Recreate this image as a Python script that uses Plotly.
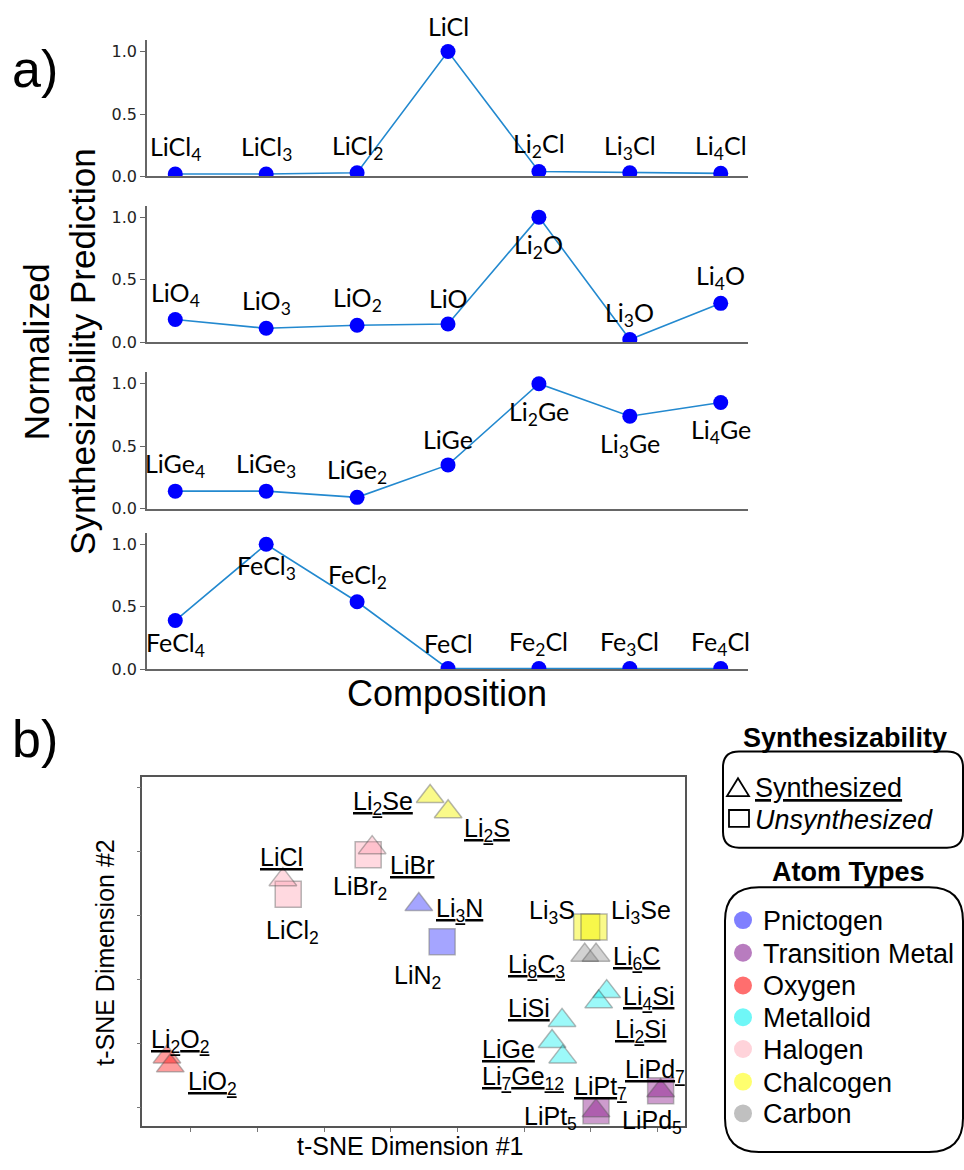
import plotly.graph_objects as go

W, H = 964, 1170

# ---------------- Panel a data ----------------
licl_labels = ["LiCl<sub>4</sub>", "LiCl<sub>3</sub>", "LiCl<sub>2</sub>", "LiCl",
               "Li<sub>2</sub>Cl", "Li<sub>3</sub>Cl", "Li<sub>4</sub>Cl"]
licl_values = [0.02, 0.02, 0.03, 1.0, 0.04, 0.03, 0.025]

lio_labels = ["LiO<sub>4</sub>", "LiO<sub>3</sub>", "LiO<sub>2</sub>", "LiO",
              "Li<sub>2</sub>O", "Li<sub>3</sub>O", "Li<sub>4</sub>O"]
lio_values = [0.18, 0.11, 0.135, 0.145, 1.0, 0.02, 0.31]

lige_labels = ["LiGe<sub>4</sub>", "LiGe<sub>3</sub>", "LiGe<sub>2</sub>", "LiGe",
               "Li<sub>2</sub>Ge", "Li<sub>3</sub>Ge", "Li<sub>4</sub>Ge"]
lige_values = [0.14, 0.14, 0.09, 0.35, 1.0, 0.74, 0.85]

fecl_labels = ["FeCl<sub>4</sub>", "FeCl<sub>3</sub>", "FeCl<sub>2</sub>", "FeCl",
               "Fe<sub>2</sub>Cl", "Fe<sub>3</sub>Cl", "Fe<sub>4</sub>Cl"]
fecl_values = [0.39, 1.0, 0.54, 0.005, 0.005, 0.005, 0.005]

# label placement (style): +1 above, -1 below
licl_side = [1, 1, 1, 1, 1, 1, 1]
lio_side = [1, 1, 1, 1, -1, 1, 1]
lige_side = [1, 1, 1, 1, -1, -1, -1]
fecl_side = [-1, -1, 1, 1, 1, 1, 1]

# ---------------- Panel b data ----------------
tsne_names = ["Li<sub>2</sub>Se", "Li<sub>2</sub>S", "LiBr<sub>2</sub>", "LiBr",
              "LiCl<sub>2</sub>", "LiCl", "Li<sub>3</sub>N", "LiN<sub>2</sub>",
              "Li<sub>2</sub>O<sub>2</sub>", "LiO<sub>2</sub>",
              "Li<sub>3</sub>S", "Li<sub>3</sub>Se", "Li<sub>8</sub>C<sub>3</sub>", "Li<sub>6</sub>C",
              "Li<sub>4</sub>Si", "Li<sub>2</sub>Si", "LiSi", "LiGe",
              "Li<sub>7</sub>Ge<sub>12</sub>", "LiPt<sub>5</sub>", "LiPt<sub>7</sub>",
              "LiPd<sub>5</sub>", "LiPd<sub>7</sub>"]
tsne_x = [3.59, 3.86, 2.66, 2.72, 1.46, 1.38, 3.42, 3.77, -0.36, -0.31,
          5.94, 6.05, 5.91, 6.08, 6.24, 6.12, 5.57, 5.42, 5.58, 6.08, 6.08, 7.05, 7.05]
tsne_y = [4.86, 4.62, 3.95, 4.06, 3.33, 3.56, 3.17, 2.59, 0.79, 0.65,
          2.82, 2.82, 2.38, 2.38, 1.81, 1.65, 1.36, 1.03, 0.79, -0.05, -0.05, 0.26, 0.26]
tsne_synthesized = [True, True, False, True, False, True, True, False, True, True,
                    False, False, True, True, True, True, True, True, True, False, True, False, True]
tsne_type = ["Chalcogen", "Chalcogen", "Halogen", "Halogen", "Halogen", "Halogen",
             "Pnictogen", "Pnictogen", "Oxygen", "Oxygen", "Chalcogen", "Chalcogen",
             "Carbon", "Carbon", "Metalloid", "Metalloid", "Metalloid", "Metalloid",
             "Metalloid", "Transition Metal", "Transition Metal", "Transition Metal",
             "Transition Metal"]

atom_types = ["Pnictogen", "Transition Metal", "Oxygen", "Metalloid", "Halogen",
              "Chalcogen", "Carbon"]

# ---------------- styles ----------------
type_fill = {
    "Pnictogen": "rgba(0,0,255,0.5)",
    "Transition Metal": "rgba(128,0,128,0.55)",
    "Oxygen": "rgba(255,0,0,0.55)",
    "Metalloid": "rgba(0,240,240,0.55)",
    "Halogen": "rgba(255,150,170,0.5)",
    "Chalcogen": "rgba(245,245,0,0.65)",
    "Carbon": "rgba(128,128,128,0.5)",
}
type_legend = {
    "Pnictogen": "#7f7fff",
    "Transition Metal": "#b87cbf",
    "Oxygen": "#ff6e6e",
    "Metalloid": "#6ff7f7",
    "Halogen": "#ffd3da",
    "Chalcogen": "#ffff6e",
    "Carbon": "#c0c0c0",
}
# label offsets in px (dx right, dy down) relative to the marker
tsne_label_offsets = [(-47, 0), (39, 11), (-8, 26), (40, 10), (4, 31), (-1, -30),
                      (41, -2), (-25, 28), (13, -23), (42, 10), (-35, -22), (47, -22),
                      (-48, 4), (40, -4), (42, -1), (42, 22), (-33, -19), (-44, 0),
                      (-40, 14), (-46, 0), (4, -30), (-9, 24), (-6, -27)]
label_baseline_fix = 7  # px, plotly centres the whole text box (incl. descent)

LINE_FONT = "Lato"
SANS = "Liberation Sans"

fig = go.Figure()

# ---------------- Panel a ----------------
panels = [(licl_labels, licl_values, licl_side),
          (lio_labels, lio_values, lio_side),
          (lige_labels, lige_values, lige_side),
          (fecl_labels, fecl_values, fecl_side)]
below_shift = [-28, -29, -29, -23]
bottoms = [178, 345, 513, 675]
yr = [0, 1.09]
unit = 126.0
x_left, x_right = 147, 748
xr = [-0.311, 6.30]

annotations = []
layout_axes = {}
for k, (labels, vals, sides) in enumerate(panels):
    n = k + 1
    xs = list(range(len(vals)))
    fig.add_trace(go.Scatter(
        x=xs, y=vals, mode="lines+markers",
        line=dict(color="#2389cf", width=1.6),
        marker=dict(color="#0000ff", size=15),
        xaxis=f"x{n}" if n > 1 else "x", yaxis=f"y{n}" if n > 1 else "y",
        showlegend=False, hoverinfo="skip", cliponaxis=True))
    b = bottoms[k]
    t = b - unit * yr[1]
    xa = "xaxis" if n == 1 else f"xaxis{n}"
    ya = "yaxis" if n == 1 else f"yaxis{n}"
    layout_axes[xa] = dict(domain=[x_left / W, x_right / W], range=xr,
                           anchor="y" if n == 1 else f"y{n}",
                           showline=True, linecolor="#666", linewidth=1.5,
                           showticklabels=False, ticks="", showgrid=False, zeroline=False,
                           fixedrange=True)
    layout_axes[ya] = dict(domain=[1 - b / H, 1 - t / H], range=yr,
                           anchor="x" if n == 1 else f"x{n}",
                           showline=True, linecolor="#666", linewidth=1.5,
                           tickvals=[0, 0.5, 1.0], ticktext=["0.0", "0.5", "1.0"],
                           ticks="outside", ticklen=5, tickcolor="#666", tickwidth=1.3,
                           tickfont=dict(family="DejaVu Sans", size=16, color="#222"),
                           showgrid=False, zeroline=False, fixedrange=True)
    for i, (lab, v, s) in enumerate(zip(labels, vals, sides)):
        annotations.append(dict(
            x=i, y=v, xref="x" if n == 1 else f"x{n}", yref="y" if n == 1 else f"y{n}",
            text=lab, showarrow=False, xanchor="center", yanchor="middle",
            yshift=26 if s > 0 else below_shift[k],
            font=dict(family=LINE_FONT, size=25, color="#000")))

# ---------------- Panel b ----------------
order = [i for i in range(len(tsne_x)) if not tsne_synthesized[i]] + \
        [i for i in range(len(tsne_x)) if tsne_synthesized[i]]
fig.add_trace(go.Scatter(
    x=[tsne_x[i] for i in order], y=[tsne_y[i] for i in order], mode="markers",
    marker=dict(
        symbol=["triangle-up" if tsne_synthesized[i] else "square" for i in order],
        size=[24 if tsne_synthesized[i] else 26 for i in order],
        color=[type_fill[tsne_type[i]] for i in order],
        line=dict(color="rgba(70,70,70,0.55)", width=1.5)),
    xaxis="x5", yaxis="y5", showlegend=False, hoverinfo="skip", cliponaxis=False))

sx0, sx1, sy0, sy1 = 142.3, 685.3, 783.3, 1135.7
layout_axes["xaxis5"] = dict(domain=[sx0 / W, sx1 / W], range=[-0.73, 7.42], anchor="y5",
                             showline=True, mirror=True, linecolor="#555", linewidth=1.5,
                             ticks="outside", ticklen=4, tickcolor="#777", dtick=1, tick0=0,
                             showticklabels=False, showgrid=False, zeroline=False,
                             fixedrange=True)
layout_axes["yaxis5"] = dict(domain=[1 - sy1 / H, 1 - sy0 / H], range=[-0.29, 5.17],
                             anchor="x5",
                             showline=True, mirror=True, linecolor="#555", linewidth=1.5,
                             ticks="outside", ticklen=4, tickcolor="#777", dtick=1, tick0=0,
                             showticklabels=False, showgrid=False, zeroline=False,
                             fixedrange=True)

for i, name in enumerate(tsne_names):
    dx, dy = tsne_label_offsets[i]
    txt = f"<u>{name}</u>" if tsne_synthesized[i] else name
    annotations.append(dict(
        x=tsne_x[i], y=tsne_y[i], xref="x5", yref="y5", text=txt, showarrow=False,
        xanchor="center", yanchor="middle", xshift=dx, yshift=-dy - label_baseline_fix,
        font=dict(family=SANS, size=25, color="#000")))


def pa(x, y, text, size, family=SANS, xanchor="center", angle=0, **kw):
    annotations.append(dict(x=x / W, y=1 - y / H, xref="paper", yref="paper", text=text,
                            showarrow=False, xanchor=xanchor, yanchor="middle",
                            textangle=angle, font=dict(family=family, size=size, color="#000"),
                            **kw))


pa(35, 70, "a)", 52)
pa(35, 745, "b)", 52)
pa(60, 355, "Normalized<br>Synthesizability Prediction", 35, angle=-90)
pa(447, 699, "Composition", 36)
pa(105, 961, "t-SNE Dimension #2", 25, angle=-90)
pa(410, 1156, "t-SNE Dimension #1", 25)

# legend
pa(845, 744, "<b>Synthesizability</b>", 27)
pa(753, 795, "<u>Synthesized</u>", 27, xanchor="left")
pa(753, 827, "<i>Unsynthesized</i>", 27, xanchor="left")
pa(848, 880, "<b>Atom Types</b>", 27)
leg_y = [928, 961, 994, 1026, 1058, 1091, 1123]
for t_name, yy in zip(atom_types, leg_y):
    pa(761, yy + 1, t_name, 27, xanchor="left")


def P(x, y):
    return f"{x / W:.5f},{1 - y / H:.5f}"


def rrect(x0, y0, x1, y1, r):
    return (f"M {P(x0 + r, y0)} L {P(x1 - r, y0)} Q {P(x1, y0)} {P(x1, y0 + r)} "
            f"L {P(x1, y1 - r)} Q {P(x1, y1)} {P(x1 - r, y1)} L {P(x0 + r, y1)} "
            f"Q {P(x0, y1)} {P(x0, y1 - r)} L {P(x0, y0 + r)} Q {P(x0, y0)} {P(x0 + r, y0)} Z")


shapes = [
    dict(type="path", xref="paper", yref="paper", path=rrect(723, 758, 963, 855, 16),
         line=dict(color="#000", width=2)),
    dict(type="path", xref="paper", yref="paper", path=rrect(725, 895, 963, 1162, 34),
         line=dict(color="#000", width=2)),
    # triangle and square legend glyphs
    dict(type="path", xref="paper", yref="paper",
         path=f"M {P(727, 803)} L {P(749, 803)} L {P(738, 785)} Z",
         line=dict(color="#000", width=1.8)),
    dict(type="path", xref="paper", yref="paper",
         path=f"M {P(729, 817)} L {P(749, 817)} L {P(749, 834)} L {P(729, 834)} Z",
         line=dict(color="#000", width=1.8)),
]
for t_name, yy in zip(atom_types, leg_y):
    shapes.append(dict(type="circle", xref="paper", yref="paper",
                       x0=(743 - 9) / W, x1=(743 + 9) / W,
                       y0=1 - (yy + 9) / H, y1=1 - (yy - 9) / H,
                       fillcolor=type_legend[t_name], line=dict(width=0)))

fig.update_layout(width=W, height=H, margin=dict(l=0, r=0, t=0, b=0),
                  paper_bgcolor="white", plot_bgcolor="white",
                  annotations=annotations, shapes=shapes, **layout_axes)

fig.write_html("out.html")
